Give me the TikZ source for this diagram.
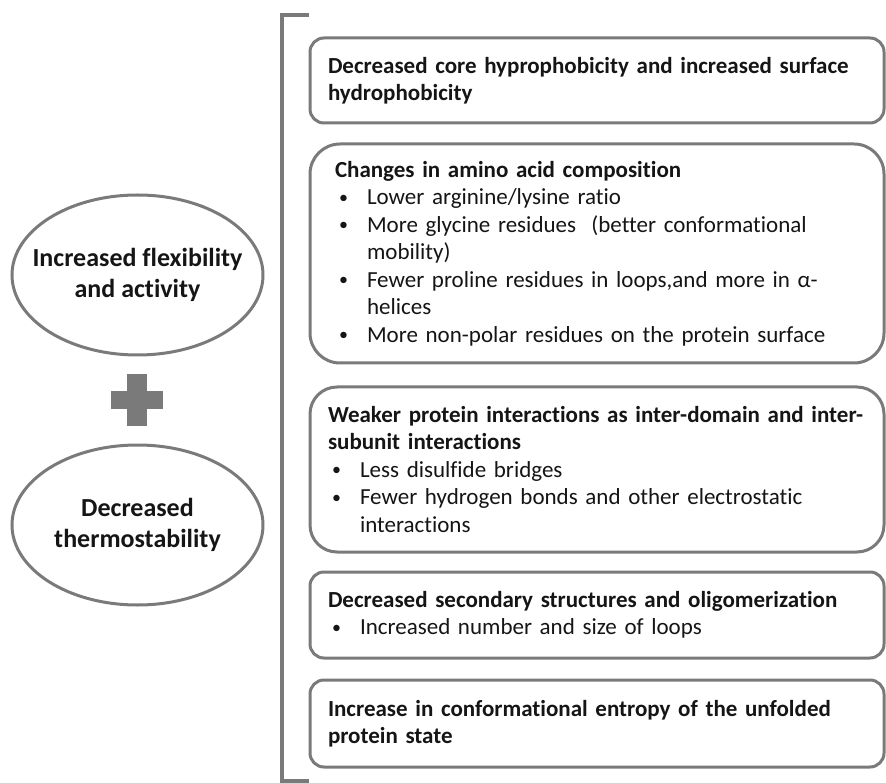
\documentclass[tikz,border=0pt]{standalone}
\usepackage{fontspec}
\setmainfont{Carlito}[Ligatures={NoCommon}]
\usetikzlibrary{shapes.geometric, positioning}
\setlength{\parindent}{0pt}
\definecolor{linegray}{HTML}{7A7A7A}
\definecolor{txtgray}{HTML}{151515}

% bullet line with hanging indent
\newcommand{\bitem}[1]{\par\hangindent=32pt\hangafter=1\noindent\makebox[32pt][l]{\hspace{4pt}\raisebox{1.5pt}{\fontsize{18}{18}\selectfont\textbullet}}#1\par}
% zero-width line so the ellipse keeps its size
\newcommand{\zline}[1]{\makebox[0pt]{#1}}

\begin{document}
\begin{tikzpicture}[
    x=1pt, y=-1pt,
    effect/.style={rectangle, rounded corners=#1, draw=linegray, line width=3pt, fill=white, minimum width=574pt, text width=538pt, inner xsep=18pt, inner ysep=0pt, outer sep=0pt, align=left, font=\fontsize{23}{27.5}\selectfont, text=txtgray},
    effect/.default=14pt,
    trait/.style={ellipse, draw=linegray, line width=3pt, minimum width=251pt, minimum height=160pt, inner sep=0pt, align=center, font=\fontsize{26}{31}\selectfont\bfseries, text=txtgray},
    bracket/.style={draw=linegray, line width=4.5pt, line join=miter}
]
\useasboundingbox (0,0) rectangle (886,783);

% Left side
\node[trait] (flex) at (137.5,275) {\zline{Increased flexibility}\\\zline{and activity}};
\node[trait] (thermo) at (137.5,525) {\zline{Decreased}\\\zline{thermostability}};
\fill[linegray] (127,374) rectangle (147,426);
\fill[linegray] (111,391) rectangle (163,409);

% Bracket
\draw[bracket] (309,15) -- (282,15) -- (282,781) -- (309,781);

% Boxes
\node[effect, minimum height=85pt, anchor=north west] (core) at (310,38) {{\bfseries Decreased core hyprophobicity and increased surface\\hydrophobicity}};
\node[effect=30pt, minimum height=219pt, inner xsep=25pt, text width=524pt, below=21pt of core] (amino) {{\bfseries Changes in amino acid composition}
\bitem{Lower arginine/lysine ratio}
\bitem{More glycine residues\ \ (better conformational\newline mobility)}
\bitem{Fewer proline residues in loops,and more in α-\newline helices}
\bitem{More non-polar residues on the protein surface}};
\node[effect=27pt, minimum height=165pt, below=24pt of amino] (weak) {{\bfseries \mbox{Weaker protein interactions as inter-domain and inter-}\\subunit interactions}
\bitem{Less disulfide bridges}
\bitem{Fewer hydrogen bonds and other electrostatic\newline interactions}};
\node[effect, minimum height=86pt, below=20pt of weak] (second) {{\bfseries Decreased secondary structures and oligomerization}
\bitem{Increased number and size of loops}};
\node[effect, minimum height=87pt, below=22pt of second] (entropy) {{\bfseries Increase in conformational entropy of the unfolded\\protein state}};
\end{tikzpicture}
\end{document}
